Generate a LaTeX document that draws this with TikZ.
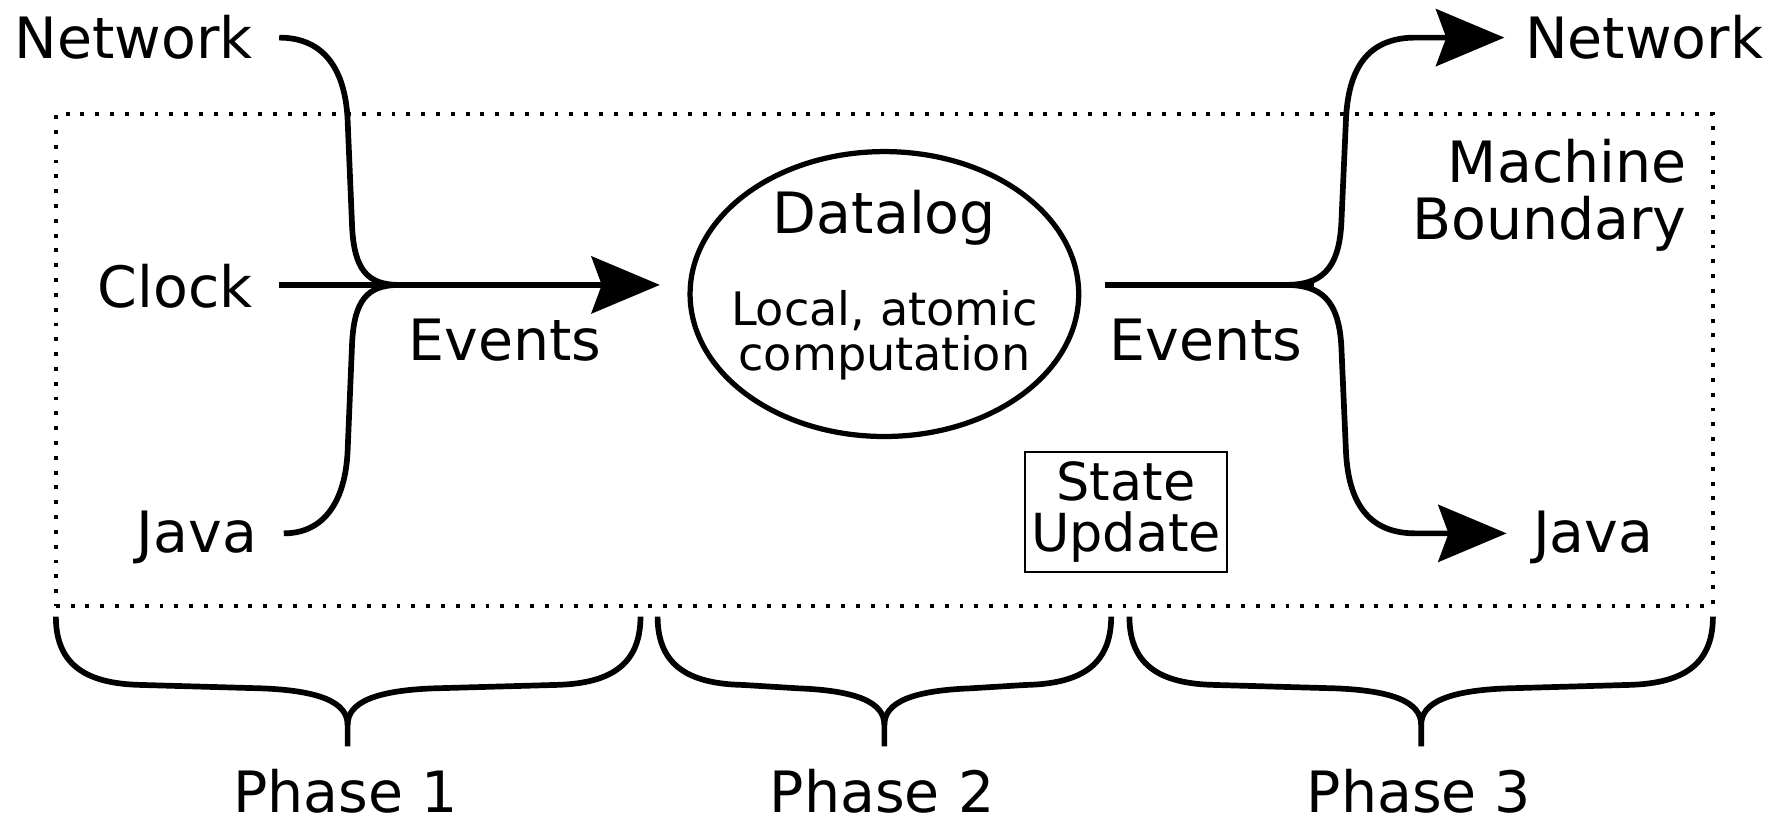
\documentclass[tikz,border=0pt]{standalone}
\usepackage{fontspec}
\setmainfont{DejaVu Sans}
\usetikzlibrary{arrows.meta,shapes.geometric}
\begin{document}
\begin{tikzpicture}[x=1pt,y=-1pt,
  big/.style={font=\fontsize{50}{50}\selectfont, inner sep=0pt},
  small/.style={font=\fontsize{40.5}{40}\selectfont, inner sep=0pt},
  flow/.style={line width=5pt},
  arr/.style={flow,-{Stealth[length=60pt,width=50pt,inset=9pt]}},
  bracepath/.style={line width=5pt},
  boundary/.style={draw,line width=3.4pt,dash pattern=on 3.4pt off 9.6pt,minimum width=1454pt,minimum height=432pt,inner sep=0pt},
  statebox/.style={draw,line width=1.8pt,minimum width=178pt,minimum height=105pt,inner sep=0pt,align=center,font=\fontsize{46}{45}\selectfont},
]
\useasboundingbox (0,0) rectangle (1568,720);

% machine boundary
\node[boundary] (mbox) at (776,316) {};
\node[big,align=right,anchor=base east] (mb) at (1480,210) {Machine\\Boundary};

% left labels
\node[big,anchor=base east] (netL) at (222,51) {Network};
\node[big,anchor=base east] (clock) at (222,270) {Clock};
\node[big,anchor=base east] (javaL) at (226,485) {Java};
\node[big,anchor=base] (ev1) at (443,316) {Events};

% datalog
\node[draw,ellipse,line width=4.6pt,minimum width=341pt,minimum height=250pt,inner sep=0pt] (dl) at (776,258) {};
\node[big,anchor=base] (dltitle) at (776,205) {Datalog};
\node[small,anchor=base] (dlsub1) at (776,286) {Local, atomic};
\node[small,anchor=base] (dlsub2) at (776,325) {computation};

% right labels
\node[big,anchor=base] (ev2) at (1058,316) {Events};
\node[big,anchor=base west] (netR) at (1338,51) {Network};
\node[big,anchor=base west] (javaR) at (1345,485) {Java};

\node[statebox] (su) at (988,449.5) {State\\Update};

% junctions
\coordinate (jL) at (350,250);
\coordinate (inTip) at (579,250);
\coordinate (outS) at (970,250);
\coordinate (jR) at (1128,250);
\coordinate (jRend) at (1153,250);

% incoming
\draw[flow] ([xshift=23pt]netL.east |- 0,33) .. controls (285,33) and (303,62) .. (305,105)
   -- (309,200) .. controls (311,236) and (322,250) .. (jL);
\draw[flow] ([xshift=23pt]javaL.east |- 0,468) .. controls (285,468) and (303,439) .. (305,396)
   -- (309,300) .. controls (311,264) and (322,250) .. (jL);
\draw[arr] ([xshift=23pt]clock.east |- 0,250) -- (inTip);

% outgoing
\draw[flow] (outS) -- (jRend);
\draw[arr] (jR) .. controls (1158,250) and (1175,238) .. (1177,195)
   -- (1181,105) .. controls (1183,60) and (1200,33) .. (1242,33) -- ([xshift=-18pt]netR.west |- 0,33);
\draw[arr] (jR) .. controls (1158,250) and (1175,262) .. (1177,305)
   -- (1181,396) .. controls (1183,440) and (1200,468) .. (1242,468) -- ([xshift=-23pt]javaR.west |- 0,468);

% braces
\foreach \L/\R/\c/\n in {49/562/305/1, 577/975/776/2, 991/1503/1247/3}{
  \draw[bracepath,line join=round]
    (\L,541) .. controls (\L,586) and (\L+30,600) .. (\L+75,601)
    -- (\c-75,604) .. controls (\c-25,606) and (\c,616) .. (\c,636) -- (\c,655);
  \draw[bracepath,line join=round]
    (\R,541) .. controls (\R,586) and (\R-30,600) .. (\R-75,601)
    -- (\c+75,604) .. controls (\c+25,606) and (\c,616) .. (\c,636);
  \node[big,anchor=base] (ph\n) at (\c-2,713) {Phase \n};
}
\end{tikzpicture}
\end{document}
